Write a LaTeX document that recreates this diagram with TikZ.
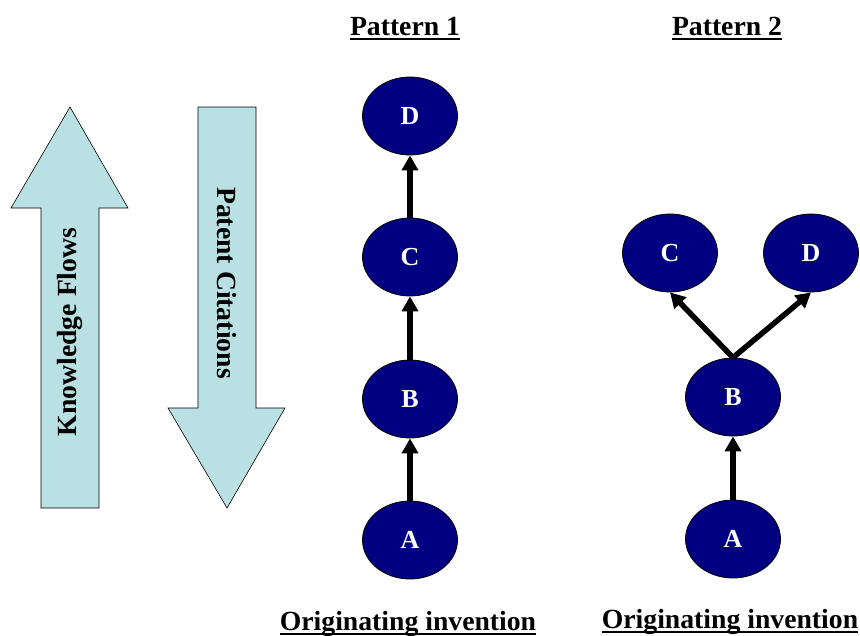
\documentclass[tikz,border=0pt]{standalone}
\usepackage{fontspec}
\setmainfont{Liberation Serif}
\usetikzlibrary{shapes.geometric,arrows.meta}
\definecolor{flowblue}{RGB}{185,224,227}
\definecolor{navynode}{RGB}{0,0,128}
\tikzset{
  invnode/.style={ellipse, draw=black, line width=0.8pt, fill=navynode,
    minimum width=95pt, minimum height=78pt, inner sep=0pt,
    text=white, font=\bfseries\fontsize{26}{26}\selectfont},
  cite/.style={line width=5.5pt, -{Triangle[length=15pt,width=16pt]}},
  bigarrow/.style={draw=black, line width=0.6pt, fill=flowblue},
  label/.style={inner sep=0pt, font=\bfseries\fontsize{27.7}{27.7}\selectfont},
  title/.style={label, anchor=base},
  uline/.style={line width=2pt}
}
\begin{document}
\begin{tikzpicture}[x=1pt,y=-1pt]
\useasboundingbox (0,0) rectangle (860,635);

% broad direction arrows
\draw[bigarrow] (41,508) -- (41,208) -- (11,208) -- (70,107) -- (128,208)
  -- (99,208) -- (99,508) -- cycle;
\draw[bigarrow] (198,107) -- (256,107) -- (256,408) -- (285,408)
  -- (227,508) -- (168,408) -- (198,408) -- cycle;
\node[label, rotate=90] (kf) at (70,332) {Knowledge Flows};
\node[label, rotate=-90] (pc) at (227,283) {Patent Citations};

% titles
\node[title] (t1) at (405,35) {Pattern 1};
\node[title] (t2) at (727,35) {Pattern 2};
\draw[uline] ([yshift=-4pt]t1.base west) -- ([yshift=-4pt]t1.base east);
\draw[uline] ([yshift=-4pt]t2.base west) -- ([yshift=-4pt]t2.base east);

\node[title] (o1) at (408,630) {Originating invention};
\node[title] (o2) at (730,628) {Originating invention};
\draw[uline] ([yshift=-4pt]o1.base west) -- ([yshift=-4pt]o1.base east);
\draw[uline] ([yshift=-4pt]o2.base west) -- ([yshift=-4pt]o2.base east);

% pattern 1: a chain
\node[invnode] (d1) at (410,116) {D};
\node[invnode] (c1) at (410,257) {C};
\node[invnode] (b1) at (410,399) {B};
\node[invnode] (a1) at (410,540) {A};
\draw[cite] (a1) -- (b1);
\draw[cite] (b1) -- (c1);
\draw[cite] (c1) -- (d1);

% pattern 2: a fork
\node[invnode] (c2) at (670,253) {C};
\node[invnode] (d2) at (811,253) {D};
\node[invnode] (b2) at (733,397) {B};
\node[invnode] (a2) at (733,539) {A};
\draw[cite] (a2) -- (b2);
\draw[cite] (b2.north) -- (c2.south);
\draw[cite] (b2.north) -- (d2.south);
\end{tikzpicture}
\end{document}
